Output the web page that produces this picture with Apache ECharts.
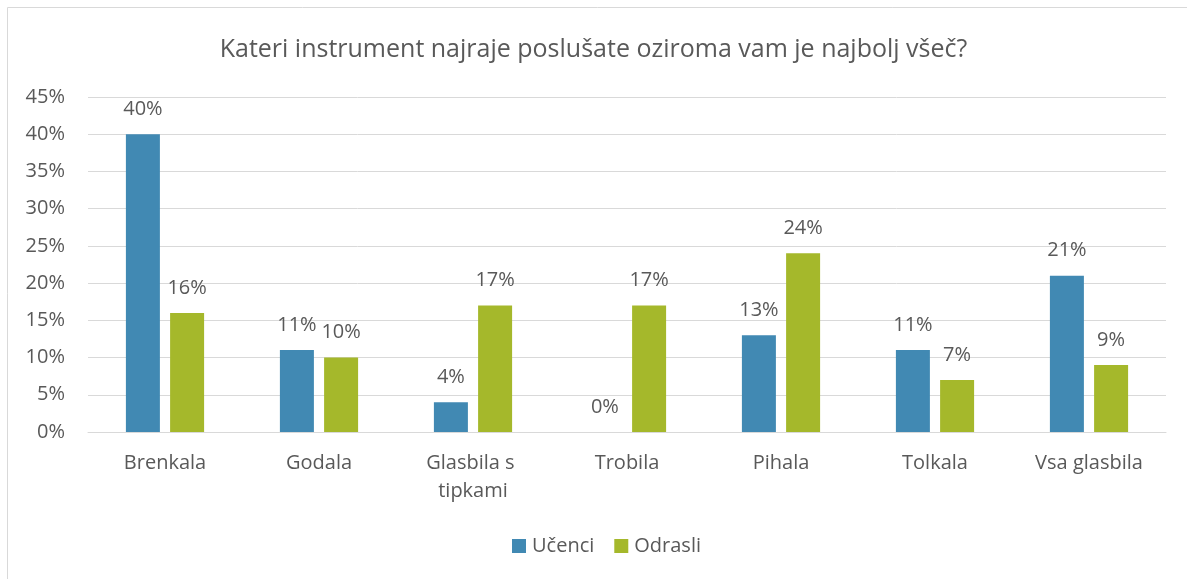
<!DOCTYPE html>
<html>
<head>
<meta charset="utf-8">
<script src="https://cdn.jsdelivr.net/npm/echarts@6/dist/echarts.min.js"></script>
<style>
html, body { margin: 0; padding: 0; background: #fff; }
#chart { width: 1187px; height: 579px; }
</style>
</head>
<body>
<div id="chart"></div>
<script>
var categories = ['Brenkala', 'Godala', 'Glasbila s tipkami', 'Trobila', 'Pihala', 'Tolkala', 'Vsa glasbila'];
var ucenci = [40, 11, 4, 0, 13, 11, 21];
var odrasli = [16, 10, 17, 17, 24, 7, 9];
var seriesNames = ['Učenci', 'Odrasli'];

var dom = document.getElementById("chart");
var myChart = echarts.init(dom);
var textColor = '#595959';
var font = '"Open Sans", sans-serif';

var option = {
    color: ['#4189B3', '#A5B82B'],
    textStyle: { fontFamily: font },
    title: {
        text: 'Kateri instrument najraje poslušate oziroma vam je najbolj všeč?',
        left: 'center',
        top: 32,
        textStyle: {
            color: textColor,
            fontSize: 25,
            fontWeight: 'normal',
            fontFamily: font
        }
    },
    // okvir grafa
    graphic: [{
        type: 'rect',
        shape: { x: 7.5, y: 7.5, width: 1220, height: 620 },
        style: { fill: 'none', stroke: '#D9D9D9', lineWidth: 1 },
        silent: true
    }],
    legend: {
        data: seriesNames,
        bottom: 18,
        left: 507,
        itemWidth: 14,
        itemHeight: 14,
        itemGap: 20,
        icon: 'rect',
        textStyle: { color: textColor, fontSize: 20, fontFamily: font, padding: [0, 0, 0, 1] }
    },
    grid: {
        left: 88,
        right: 21,
        top: 97,
        bottom: 147
    },
    xAxis: {
        type: 'category',
        data: categories,
        axisTick: { show: false },
        axisLine: { lineStyle: { color: '#D9D9D9', width: 1 } },
        axisLabel: {
            color: textColor,
            fontSize: 20,
            margin: 17,
            lineHeight: 28,
            width: 135,
            overflow: 'break',
            interval: 0
        }
    },
    yAxis: {
        type: 'value',
        min: 0,
        max: 45,
        interval: 5,
        axisLine: { show: false },
        axisTick: { show: false },
        splitLine: { lineStyle: { color: '#D9D9D9', width: 1 } },
        axisLabel: {
            color: textColor,
            fontSize: 20,
            margin: 23,
            formatter: '{value}%'
        }
    },
    series: [
        {
            name: seriesNames[0],
            type: 'bar',
            data: ucenci,
            barWidth: 34,
            barGap: '30%',
            label: {
                show: true,
                position: 'top',
                distance: 15,
                color: textColor,
                fontSize: 20,
                formatter: '{c}%'
            }
        },
        {
            name: seriesNames[1],
            type: 'bar',
            data: odrasli,
            barWidth: 34,
            barGap: '30%',
            label: {
                show: true,
                position: 'top',
                distance: 15,
                color: textColor,
                fontSize: 20,
                formatter: '{c}%'
            }
        }
    ]
};
myChart.setOption(option, true);
</script>
</body>
</html>
